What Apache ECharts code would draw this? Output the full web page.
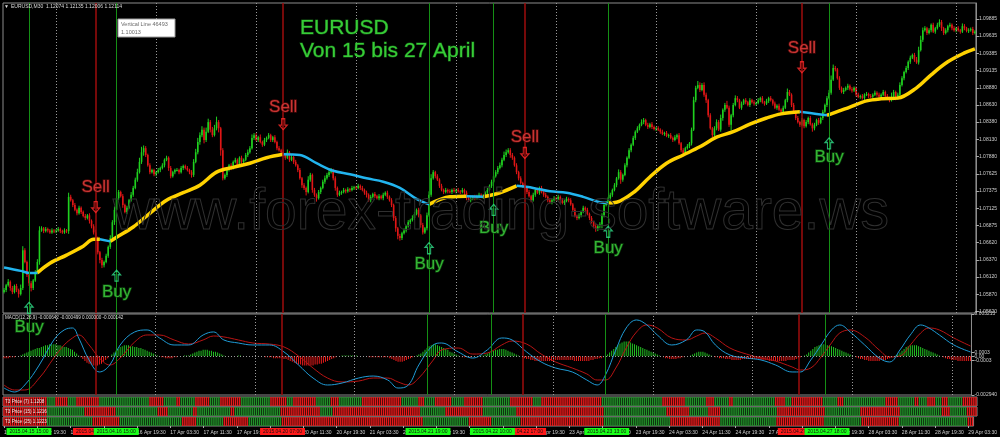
<!DOCTYPE html>
<html><head><meta charset="utf-8">
<script src="https://cdn.jsdelivr.net/npm/echarts@6/dist/echarts.min.js"></script>
<style>html,body{margin:0;padding:0;background:#000;overflow:hidden}#c{width:1000px;height:437px}</style>
</head><body><div id="c"></div>
<script>
// ---------------- DATA ----------------
const sessionDays = [
  ['2015.04.15','11:30',25],['2015.04.16','00:00',48],['2015.04.17','00:00',48],
  ['2015.04.20','00:00',48],['2015.04.21','00:00',48],['2015.04.22','00:00',48],
  ['2015.04.23','00:00',48],['2015.04.24','00:00',48],['2015.04.27','00:00',48],
  ['2015.04.28','00:00',48],['2015.04.29','00:00',10]
];
const firstOpen = 1.0590;
const closes = [
1.0593,1.0600,1.0605,1.0596,1.0590,1.0599,1.0593,1.0587,1.0596,1.0651,1.0634,1.0615,1.0603,1.0596,1.0607,1.0619,1.0634,1.0680,1.0683,1.0679,1.0682,1.0680,1.0677,1.0680,1.0679,
1.0680,1.0682,1.0679,1.0677,1.0680,1.0679,1.0729,1.0724,1.0717,1.0710,1.0705,1.0713,1.0707,1.0701,1.0698,1.0702,1.0694,1.0686,1.0677,1.0669,1.0648,1.0637,1.0629,1.0634,1.0643,1.0656,1.0669,1.0692,1.0710,1.0727,1.0736,1.0730,1.0717,1.0707,1.0713,1.0724,1.0732,1.0742,1.0754,1.0765,1.0780,1.0794,1.0800,1.0790,1.0775,1.0765,1.0768,1.0762,
1.0765,1.0768,1.0771,1.0775,1.0783,1.0786,1.0771,1.0759,1.0765,1.0768,1.0768,1.0765,1.0771,1.0774,1.0771,1.0768,1.0765,1.0761,1.0780,1.0794,1.0809,1.0819,1.0827,1.0812,1.0824,1.0838,1.0827,1.0819,1.0829,1.0838,1.0829,1.0797,1.0756,1.0761,1.0768,1.0775,1.0771,1.0780,1.0783,1.0775,1.0786,1.0780,1.0783,1.0790,1.0794,1.0800,1.0815,1.0819,
1.0812,1.0816,1.0809,1.0805,1.0812,1.0815,1.0819,1.0812,1.0816,1.0809,1.0800,1.0797,1.0794,1.0790,1.0786,1.0794,1.0783,1.0787,1.0780,1.0775,1.0768,1.0756,1.0746,1.0742,1.0736,1.0754,1.0761,1.0739,1.0732,1.0727,1.0736,1.0742,1.0751,1.0756,1.0761,1.0765,1.0768,1.0756,1.0742,1.0732,1.0735,1.0736,1.0739,1.0737,1.0740,1.0739,1.0742,1.0743,
1.0742,1.0745,1.0742,1.0739,1.0735,1.0732,1.0724,1.0729,1.0733,1.0730,1.0727,1.0730,1.0727,1.0732,1.0735,1.0729,1.0724,1.0717,1.0698,1.0683,1.0672,1.0669,1.0676,1.0680,1.0686,1.0692,1.0695,1.0698,1.0704,1.0710,1.0702,1.0688,1.0677,1.0683,1.0702,1.0732,1.0756,1.0765,1.0759,1.0754,1.0745,1.0739,1.0736,1.0739,1.0737,1.0736,1.0739,1.0737,
1.0739,1.0737,1.0736,1.0739,1.0735,1.0727,1.0724,1.0726,1.0729,1.0727,1.0730,1.0732,1.0729,1.0730,1.0735,1.0739,1.0745,1.0751,1.0759,1.0765,1.0771,1.0775,1.0783,1.0790,1.0794,1.0797,1.0790,1.0786,1.0775,1.0765,1.0756,1.0749,1.0745,1.0742,1.0736,1.0730,1.0724,1.0732,1.0739,1.0735,1.0742,1.0736,1.0732,1.0729,1.0724,1.0721,1.0724,1.0727,
1.0726,1.0729,1.0724,1.0720,1.0723,1.0726,1.0724,1.0718,1.0710,1.0701,1.0698,1.0702,1.0707,1.0713,1.0710,1.0704,1.0698,1.0692,1.0686,1.0683,1.0686,1.0689,1.0702,1.0717,1.0720,1.0727,1.0732,1.0739,1.0746,1.0756,1.0765,1.0754,1.0761,1.0775,1.0786,1.0797,1.0805,1.0815,1.0824,1.0829,1.0834,1.0838,1.0841,1.0834,1.0831,1.0835,1.0831,1.0828,
1.0829,1.0827,1.0824,1.0821,1.0822,1.0818,1.0819,1.0815,1.0812,1.0816,1.0819,1.0807,1.0797,1.0793,1.0800,1.0803,1.0807,1.0827,1.0870,1.0888,1.0892,1.0885,1.0892,1.0878,1.0870,1.0848,1.0829,1.0819,1.0829,1.0838,1.0827,1.0844,1.0856,1.0863,1.0859,1.0834,1.0848,1.0863,1.0873,1.0870,1.0859,1.0865,1.0870,1.0867,1.0863,1.0870,1.0867,1.0865,
1.0866,1.0870,1.0873,1.0867,1.0865,1.0869,1.0873,1.0870,1.0865,1.0859,1.0862,1.0856,1.0853,1.0859,1.0870,1.0882,1.0878,1.0863,1.0853,1.0844,1.0838,1.0834,1.0841,1.0832,1.0838,1.0844,1.0835,1.0829,1.0834,1.0841,1.0837,1.0844,1.0853,1.0863,1.0873,1.0881,1.0900,1.0917,1.0915,1.0902,1.0888,1.0882,1.0885,1.0888,1.0891,1.0886,1.0884,1.0888,
1.0878,1.0875,1.0876,1.0873,1.0878,1.0879,1.0876,1.0875,1.0878,1.0881,1.0878,1.0875,1.0878,1.0882,1.0876,1.0873,1.0870,1.0875,1.0882,1.0873,1.0878,1.0892,1.0902,1.0911,1.0917,1.0926,1.0932,1.0936,1.0929,1.0925,1.0943,1.0958,1.0972,1.0975,1.0968,1.0972,1.0980,1.0970,1.0975,1.0980,1.0984,1.0975,1.0968,1.0972,1.0978,1.0980,1.0975,1.0972,
1.0975,1.0972,1.0970,1.0978,1.0975,1.0971,1.0972,1.0974,1.0968,1.0970
];
// wick lengths in pips above/below the candle body
const upperWicks = [
3,2,4,2,3,2,3,2,5,6,3,2,2,3,2,3,4,6,3,2,3,2,2,3,2,
2,3,2,2,3,2,6,3,2,3,2,3,2,2,3,2,3,2,3,4,2,2,3,2,3,2,4,3,5,6,3,2,3,2,3,2,4,3,3,5,6,8,4,3,2,3,2,2,
2,3,2,3,2,3,2,3,2,2,3,2,3,2,2,3,2,3,4,5,6,4,5,3,6,5,3,4,5,8,3,2,3,2,3,2,3,2,3,2,2,3,2,3,4,3,5,3,
3,2,4,2,3,2,3,2,2,3,2,3,2,4,3,4,2,3,2,3,2,3,2,3,2,5,3,2,3,2,3,2,3,4,3,4,3,2,3,2,3,2,3,2,3,2,3,2,
2,3,2,3,2,3,2,3,2,3,2,3,2,3,2,3,2,3,2,3,2,3,2,3,2,3,2,4,3,2,3,2,3,2,4,5,6,3,2,3,2,3,2,3,2,3,2,3,
2,3,2,3,2,3,2,3,2,3,2,3,2,3,2,3,2,3,2,3,3,4,3,5,4,3,3,3,2,3,2,3,2,3,2,3,2,3,2,3,2,3,2,3,2,3,2,3,
2,3,2,3,2,3,2,3,2,3,2,3,2,3,2,3,2,3,2,3,2,3,3,4,3,2,3,2,3,2,4,3,2,3,2,3,2,3,2,3,2,4,3,2,3,2,3,2,
2,3,2,3,2,3,2,3,2,3,2,3,2,3,2,3,2,3,5,3,6,4,3,4,3,2,3,2,3,4,3,5,2,3,6,3,2,3,4,3,2,3,2,3,2,3,2,3,
2,3,2,3,2,3,2,3,2,3,2,3,2,3,2,5,3,2,3,2,3,2,3,2,3,2,3,2,3,2,3,2,3,2,3,4,6,5,3,2,3,2,3,2,3,2,3,2,
2,3,2,3,2,3,2,3,2,3,2,3,2,3,2,3,2,6,3,2,3,4,3,2,3,2,3,2,3,4,5,6,4,3,2,3,2,3,2,3,4,3,2,3,2,3,2,3,
2,3,2,4,3,2,3,2,3,2
];
const lowerWicks = [
2,3,2,4,3,2,3,5,2,3,2,3,4,5,3,2,3,4,2,3,2,3,2,2,3,
3,2,3,2,2,3,4,2,3,2,3,2,3,2,3,2,4,3,3,2,3,5,4,3,2,3,3,2,4,2,3,2,4,2,3,2,2,3,2,3,2,3,5,3,2,3,2,3,
3,2,3,2,3,2,4,3,2,3,2,3,2,3,2,2,3,4,3,2,3,4,3,5,3,2,4,3,2,3,6,8,3,2,3,2,3,2,2,3,2,3,2,2,3,2,2,3,
2,3,2,3,2,3,2,3,3,2,3,2,3,2,3,2,3,2,3,2,3,2,4,3,5,2,3,4,3,5,2,3,2,3,2,3,2,3,4,3,2,3,2,3,2,3,2,3,
3,2,3,2,3,4,2,3,2,3,2,3,2,3,2,3,2,3,4,5,5,4,3,2,3,2,3,2,3,2,3,4,3,2,3,2,3,2,3,2,3,2,3,2,3,2,3,2,
3,2,3,2,4,3,2,3,2,3,2,3,2,3,2,3,2,3,2,2,3,2,3,2,3,2,4,3,2,3,3,2,3,2,3,2,3,2,3,2,3,2,3,2,3,2,3,2,
3,2,3,2,3,2,3,2,3,2,3,2,3,2,3,2,3,2,3,5,4,3,6,3,2,3,2,3,2,3,2,6,3,2,3,2,3,2,3,2,3,2,3,2,3,2,3,2,
3,2,3,2,3,2,3,2,3,2,3,2,3,5,3,2,3,3,2,3,2,3,2,3,4,3,2,3,2,3,2,3,4,3,2,3,8,3,2,3,2,3,2,3,2,3,2,3,
3,2,3,2,3,2,3,2,3,2,3,2,4,3,2,3,2,3,2,3,2,3,2,3,2,3,2,5,3,2,3,2,3,2,3,2,3,2,3,2,3,2,3,2,3,2,3,2,
3,2,3,2,3,2,3,2,3,2,3,2,3,2,3,2,3,2,5,3,2,3,2,3,2,3,3,2,3,2,3,2,3,2,3,2,3,2,3,2,3,4,3,2,3,2,3,2,
3,2,3,2,3,2,3,2,3,2
];
// right price scale tick labels
const priceTicks = [1.05620,1.05870,1.06120,1.06370,1.06620,1.06875,1.07125,1.07375,1.07625,1.07880,1.08130,1.08380,1.08630,1.08880,1.09135,1.09385,1.09635,1.09885];
// moving average read at bar indices [bar, price]
const maPoints = [[0,1.0626],[8,1.0621],[12,1.0618],[16,1.0618],[22,1.0632],[30,1.0644],[38,1.0657],[43,1.0667],[46,1.0667],[51,1.0664],[54,1.0670],[62,1.0685],[70,1.0705],[78,1.0724],[86,1.0735],[94,1.0746],[102,1.0765],[110,1.0772],[118,1.0778],[126,1.0786],[134,1.0791],[142,1.0790],[150,1.0778],[158,1.0767],[166,1.0762],[174,1.0756],[182,1.0751],[190,1.0742],[198,1.0726],[204,1.0718],[214,1.0729],[222,1.0730],[230,1.0729],[238,1.0735],[246,1.0745],[254,1.0742],[262,1.0737],[270,1.0735],[278,1.0729],[286,1.0721],[290,1.0720],[294,1.0721],[302,1.0735],[310,1.0758],[318,1.0778],[326,1.0790],[334,1.0802],[342,1.0816],[350,1.0824],[358,1.0835],[366,1.0844],[373,1.0850],[382,1.0853],[390,1.0850],[395,1.0848],[398,1.0851],[406,1.0860],[414,1.0869],[421,1.0872],[429,1.0873],[438,1.0888],[445,1.0907],[453,1.0926],[461,1.0939],[466,1.0945]];
const maFallingRanges = [[0,16],[46,51],[134,204],[222,230],[246,290],[382,395]];
// MACD(12,26,9) main and signal read at bar indices
const macdMain = [[0,-0.00241],[5,-0.00271],[10,-0.00218],[17,-0.00066],[24,0.00124],[29,0.00200],[33,0.00215],[36,0.00139],[41,-0.00028],[46,-0.00119],[51,-0.00066],[56,0.00086],[63,0.00185],[69,0.00200],[75,0.00139],[82,0.00086],[89,0.00086],[96,0.00162],[101,0.00185],[106,0.00124],[113,0.00101],[120,0.00086],[128,0.00086],[135,0.00033],[142,-0.00066],[149,-0.00165],[156,-0.00218],[163,-0.00203],[171,-0.00165],[178,-0.00150],[185,-0.00180],[190,-0.00241],[195,-0.00218],[200,-0.00066],[207,0.00086],[211,0.00101],[219,0.00033],[226,-0.00013],[233,0.00048],[240,0.00139],[245,0.00124],[252,0.00033],[259,-0.00043],[266,-0.00089],[274,-0.00119],[281,-0.00180],[286,-0.00218],[290,-0.00142],[295,0.00048],[300,0.00215],[305,0.00276],[310,0.00238],[315,0.00162],[322,0.00086],[329,0.00124],[334,0.00200],[338,0.00185],[343,0.00086],[350,0.00010],[358,-0.00013],[365,-0.00028],[372,-0.00066],[380,-0.00119],[384,-0.00119],[389,-0.00028],[394,0.00086],[399,0.00200],[403,0.00238],[408,0.00185],[415,0.00086],[422,-0.00013],[427,-0.00043],[432,0.00048],[437,0.00162],[442,0.00238],[446,0.00215],[451,0.00162],[458,0.00086],[466,0.00033]];
const macdSignal = [[0,-0.00218],[5,-0.00256],[10,-0.00256],[17,-0.00165],[24,-0.00013],[29,0.00086],[33,0.00139],[36,0.00162],[41,0.00086],[46,-0.00013],[51,-0.00066],[56,-0.00013],[63,0.00109],[69,0.00162],[75,0.00162],[82,0.00124],[89,0.00093],[96,0.00124],[101,0.00154],[106,0.00147],[113,0.00124],[120,0.00101],[128,0.00093],[135,0.00071],[142,0.00002],[149,-0.00089],[156,-0.00165],[163,-0.00195],[171,-0.00188],[178,-0.00165],[185,-0.00165],[190,-0.00195],[195,-0.00218],[200,-0.00165],[207,-0.00028],[211,0.00048],[219,0.00063],[226,0.00017],[233,0.00025],[240,0.00086],[245,0.00116],[252,0.00093],[259,0.00017],[266,-0.00043],[274,-0.00089],[281,-0.00134],[286,-0.00180],[290,-0.00180],[295,-0.00089],[300,0.00063],[305,0.00185],[310,0.00238],[315,0.00215],[322,0.00139],[329,0.00124],[334,0.00154],[338,0.00177],[343,0.00139],[350,0.00063],[358,0.00017],[365,-0.00013],[372,-0.00036],[380,-0.00081],[384,-0.00104],[389,-0.00089],[394,-0.00005],[399,0.00101],[403,0.00177],[408,0.00200],[415,0.00147],[422,0.00048],[427,-0.00005],[432,0.00002],[437,0.00086],[442,0.00177],[446,0.00215],[451,0.00200],[458,0.00139],[466,0.00078]];
// MACD histogram, in points (0.00001)
const osmaPts = [
-14,-14,-14,-7,-7,-7,0,0,7,
14,21,28,35,42,49,56,63,63,70,77,84,84,91,91,91,
91,84,84,77,70,70,63,56,49,35,21,
7,-7,-21,-35,-49,-56,-63,-70,-70,-70,
-63,-56,-42,-28,-14,0,14,28,42,56,
70,77,84,84,84,77,77,70,70,63,63,56,49,42,35,
28,21,14,7,0,-7,-7,-14,-14,-14,-14,-7,-7,0,0,0,7,7,7,14,
21,28,35,42,42,49,49,49,42,42,35,35,28,21,
14,7,0,0,0,0,0,0,7,7,0,0,0,0,0,0,
0,0,0,0,0,-7,-7,-7,-7,-14,-14,-14,-14,-14,
-21,-21,-28,-35,-42,-49,-56,-63,-63,-70,-70,-70,-70,-70,-70,-63,-63,-56,-56,-49,-42,-35,-28,-21,-14,-7,
0,0,7,7,7,7,7,7,7,7,0,0,0,0,0,-7,-7,-7,-7,-7,-7,-7,-7,-7,-7,
-14,-21,-28,-35,-42,-42,-42,-35,-28,-21,-14,-7,0,7,14,
21,35,49,63,77,84,91,91,84,77,70,63,56,49,35,28,
21,14,7,0,-7,-7,-7,-7,-7,0,0,0,0,7,7,14,
21,28,35,42,49,49,56,56,56,49,42,35,28,21,14,7,0,-7,
-14,-21,-21,-28,-28,-35,-35,-35,-35,-35,-35,-35,-35,-35,-35,-28,-28,-28,-28,-28,-28,-28,-28,-28,-35,-35,-35,-35,-35,-35,-35,-35,-28,-28,-21,-21,-14,-14,-7,
0,14,28,42,56,70,84,98,105,112,112,112,105,98,91,84,77,70,63,56,49,42,35,
28,21,14,7,0,-7,-14,-14,-21,-21,-21,-21,-14,-14,-7,-7,0,0,
7,14,21,28,35,35,35,28,21,14,7,0,-7,-7,-14,
-14,-14,-21,-21,-21,-28,-28,-28,-28,-28,-21,-21,-21,-21,-21,-21,-21,-21,-21,-28,-28,-28,-28,-35,-35,-35,-35,-35,-35,-35,-35,-35,-28,-28,-28,
-28,-21,-14,-7,0,7,14,28,42,56,70,77,84,91,91,91,84,84,77,70,63,56,49,42,35,28,21,14,
7,0,-7,-14,-21,-21,-28,-28,-35,-35,-35,-35,-35,-35,-28,-28,-28,-21,-14,-7,0,7,
14,28,42,56,70,77,84,84,84,84,77,70,63,56,49,42,35,28,21,14,7,0,
-7,-14,-21,-21,-28,-28,-28,-35,-35,-35,-35,-35,-35,-35
];
const macdTicks = [[0.003213,'0.003213'],[0.0003,'0.0003'],[0,'0.00'],[-0.0003,'-0.0003'],[-0.00294,'-0.002940']];
// trade signals: bar index, arrow price, caption price, time box text
const signals = [
  {side:'buy', i:12, arrow:1.0567, text:1.0538, time:'2015.04.15 15:00'},
  {side:'sell',i:44, arrow:1.0714, text:1.0743, time:'2015.04.16 09:00'},
  {side:'buy', i:54, arrow:1.0614, text:1.0589, time:'2015.04.16 15:00'},
  {side:'sell',i:134,arrow:1.0835, text:1.0860, time:'2015.04.20 07:00'},
  {side:'buy', i:204,arrow:1.0654, text:1.0631, time:'2015.04.21 19:00'},
  {side:'buy', i:235,arrow:1.0710, text:1.0683, time:'2015.04.22 10:00'},
  {side:'sell',i:250,arrow:1.0793, text:1.0816, time:'2015.04.22 17:00'},
  {side:'buy', i:290,arrow:1.0678, text:1.0654, time:'2015.04.23 13:00'},
  {side:'sell',i:383,arrow:1.0918, text:1.0945, time:'2015.04.27 11:00'},
  {side:'buy', i:396,arrow:1.0807, text:1.0787, time:'2015.04.27 18:00'}
];
// T3 colour runs: [first bar, colour]
const t3Runs7 = [[0,'r'],[21,'g'],[25,'r'],[31,'g'],[35,'r'],[46,'g'],[70,'r'],[77,'g'],[83,'r'],[85,'g'],[92,'r'],[99,'g'],[104,'r'],[114,'g'],[128,'r'],[136,'g'],[139,'r'],[150,'g'],[157,'r'],[161,'g'],[172,'r'],[191,'g'],[199,'r'],[202,'g'],[207,'r'],[215,'g'],[221,'r'],[230,'g'],[243,'r'],[254,'g'],[258,'r'],[287,'g'],[316,'r'],[327,'g'],[337,'r'],[341,'g'],[348,'r'],[350,'g'],[370,'r'],[375,'g'],[378,'r'],[393,'g'],[400,'r'],[403,'g'],[423,'r'],[429,'g'],[437,'r'],[439,'g'],[443,'r'],[447,'g'],[450,'r'],[453,'g'],[460,'r']];
const t3Runs15 = [[0,'r'],[21,'g'],[39,'r'],[54,'g'],[74,'r'],[79,'g'],[91,'r'],[93,'g'],[109,'r'],[111,'g'],[133,'r'],[152,'g'],[158,'r'],[200,'g'],[212,'r'],[230,'g'],[246,'r'],[288,'g'],[318,'r'],[329,'g'],[338,'r'],[344,'g'],[371,'r'],[394,'g'],[411,'r'],[430,'g'],[450,'r'],[454,'g'],[462,'r']];
const t3Runs25 = [[0,'r'],[21,'g'],[43,'r'],[56,'g'],[86,'r'],[93,'g'],[106,'r'],[118,'g'],[134,'r'],[202,'g'],[224,'r'],[235,'g'],[249,'r'],[289,'g'],[321,'r'],[345,'g'],[372,'r'],[395,'g'],[413,'r'],[431,'g'],[464,'r']];

// ---------------- BUILD ----------------
const FONT = '"Liberation Sans", Arial, sans-serif';
const categories = [];
for (const [day, start, count] of sessionDays) {
  let [h, m] = start.split(':').map(Number);
  for (let k = 0; k < count; k++) {
    categories.push(day + ' ' + String(h).padStart(2,'0') + ':' + String(m).padStart(2,'0'));
    m += 30; if (m >= 60) { m -= 60; h += 1; }
  }
}
const N = categories.length;
[['closes',closes],['upperWicks',upperWicks],['lowerWicks',lowerWicks],['osmaPts',osmaPts]].forEach(([n,a]) => {
  if (a.length !== N) throw new Error('length mismatch ' + n + ': ' + a.length + ' vs ' + N);
});
const PIP = 0.0001;
const candles = closes.map((c, i) => {
  const o = i === 0 ? firstOpen : closes[i - 1];
  return [i, o, c, Math.min(o, c) - lowerWicks[i] * PIP, Math.max(o, c) + upperWicks[i] * PIP];
});
const dayStarts = [];
for (let i = 1; i < N; i++) if (categories[i].slice(0,10) !== categories[i-1].slice(0,10)) dayStarts.push(i);
const months = ['Jan','Feb','Mar','Apr','May','Jun','Jul','Aug','Sep','Oct','Nov','Dec'];
function fmtCat(v) { const [d, t] = v.split(' '); const p = d.split('.'); return p[2] + ' ' + months[+p[1]-1] + ' ' + t; }
function runsToColors(runs) {
  const out = [];
  runs.forEach(([s, c], r) => { const e = r + 1 < runs.length ? runs[r+1][0] : N; for (let i = s; i < e; i++) out[i] = c; });
  return out;
}
// rising ranges are the complement of the falling ones
const maRisingRanges = [];
let prevEnd = 0;
maFallingRanges.forEach(([a, b]) => { if (a > prevEnd) maRisingRanges.push([prevEnd, a]); prevEnd = b; });
if (prevEnd < N - 1) maRisingRanges.push([prevEnd, N - 1]);

const UP = '#1fd01f', DN = '#e01616';
const T3G = '#23902a', T3R = '#e31b1b';
const BUYLINE = '#158f15', SELLLINE = '#9e0d0d';
const sepLines = dayStarts.map(i => ({xAxis: categories[i], lineStyle:{color:'#9a9a9a', type:[1,2], width:1}}));
const sigLines = signals.map(s => ({xAxis: categories[s.i], lineStyle:{color: s.side === 'buy' ? BUYLINE : SELLLINE, type:'solid', width: s.side === 'buy' ? 1 : 1.5}}));

const grids = [
  {left:3, right:23, top:3, height:310},
  {left:3, right:23, top:314, height:81},
  {left:3, right:23, top:397, height:9},
  {left:3, right:23, top:407, height:9},
  {left:3, right:23, top:417, height:9}
].map(g => Object.assign({show:true, borderColor:'#8c8c8c', borderWidth:1, backgroundColor:'#000'}, g));

const xAxes = grids.map((g, k) => ({
  type:'category', gridIndex:k, data:categories, boundaryGap:true,
  axisLine:{show:false}, axisTick:{show:false}, splitLine:{show:false},
  axisLabel:{show:false}
}));
xAxes[4].axisLabel = {show:true, interval:(idx) => idx % 16 === 0, formatter: fmtCat, color:'#cfcfcf', fontSize:5, fontFamily:FONT, align:'left', margin:4};
xAxes[4].axisTick = {show:true, interval:(idx) => idx % 16 === 0, alignWithLabel:true, length:2, lineStyle:{color:'#aaa'}};

const yAxes = [
  {type:'value', gridIndex:0, position:'right', min:1.05595, max:1.10118, scale:true,
   axisLine:{show:true, lineStyle:{color:'#8c8c8c'}}, splitLine:{show:false},
   axisTick:{show:true, customValues:priceTicks, length:3, lineStyle:{color:'#aaa'}},
   axisLabel:{show:true, customValues:priceTicks, formatter:v => v.toFixed(5), color:'#cfcfcf', fontSize:5, fontFamily:FONT, margin:3}},
  {type:'value', gridIndex:1, position:'right', min:-0.00294, max:0.003213,
   axisLine:{show:true, lineStyle:{color:'#8c8c8c'}}, splitLine:{show:false},
   axisTick:{show:true, customValues:macdTicks.map(t=>t[0]), length:3, lineStyle:{color:'#aaa'}},
   axisLabel:{show:true, customValues:macdTicks.map(t=>t[0]), formatter:v => { const t = macdTicks.find(x => Math.abs(x[0]-v) < 1e-7); return t ? t[1] : ''; }, color:'#cfcfcf', fontSize:5, fontFamily:FONT, margin:3}},
  {type:'value', gridIndex:2, min:0, max:1, show:false},
  {type:'value', gridIndex:3, min:0, max:1, show:false},
  {type:'value', gridIndex:4, min:0, max:1, show:false}
];

const series = [];
// candles drawn through the axis scales (api.coord)
series.push({
  type:'custom', xAxisIndex:0, yAxisIndex:0, clip:true, data:candles,
  encode:{x:0, y:[1,2,3,4]},
  renderItem:(params, api) => {
    const i = api.value(0), o = api.value(1), c = api.value(2), lo = api.value(3), hi = api.value(4);
    const pH = api.coord([i, hi]), pL = api.coord([i, lo]), pO = api.coord([i, o]), pC = api.coord([i, c]);
    const x = pH[0];
    const col = c >= o ? UP : DN;
    const top = Math.min(pO[1], pC[1]);
    const h = Math.max(1, Math.abs(pO[1] - pC[1]));
    return {type:'group', children:[
      {type:'line', shape:{x1:x, y1:pH[1], x2:x, y2:pL[1]}, style:{stroke:col, lineWidth:1}},
      {type:'rect', shape:{x:x - 0.8, y:top, width:1.6, height:h}, style:{fill:col}}
    ]};
  }
});
maRisingRanges.forEach(([a, b], k) => {
  series.push({type:'line', xAxisIndex:0, yAxisIndex:0, data:maPoints.filter(p => p[0] >= a && p[0] <= b),
    smooth:0.35, showSymbol:false, lineStyle:{color:'#ffd200', width:3.5}, z:3,
    markLine: k === 0 ? {silent:true, symbol:'none', label:{show:false}, animation:false, data: sepLines.concat(sigLines)} : undefined});
});
maFallingRanges.forEach(([a, b]) => {
  series.push({type:'line', xAxisIndex:0, yAxisIndex:0, data:maPoints.filter(p => p[0] >= a && p[0] <= b),
    smooth:0.35, showSymbol:false, lineStyle:{color:'#22b4ee', width:2.5}, z:4});
});
const upPath = 'path://M5,0 L10,5 L7,5 L7,12 L3,12 L3,5 L0,5 Z';
const dnPath = 'path://M5,12 L10,7 L7,7 L7,0 L3,0 L3,7 L0,7 Z';
const sells = signals.filter(s => s.side === 'sell'), buys = signals.filter(s => s.side === 'buy');
series.push({type:'scatter', xAxisIndex:0, yAxisIndex:0, clip:false, symbol:dnPath, symbolSize:[8,11], z:6,
  itemStyle:{color:'rgba(0,0,0,0)', borderColor:'#ff2b2b', borderWidth:1.2}, data:sells.map(s => [s.i, s.arrow])});
series.push({type:'scatter', xAxisIndex:0, yAxisIndex:0, clip:false, symbol:upPath, symbolSize:[8,11], z:6,
  itemStyle:{color:'rgba(0,0,0,0)', borderColor:'#2fe08a', borderWidth:1.2}, data:buys.map(s => [s.i, s.arrow])});
series.push({type:'scatter', xAxisIndex:0, yAxisIndex:0, clip:false, symbolSize:1, z:6,
  itemStyle:{color:'rgba(0,0,0,0)'}, data:sells.map(s => [s.i, s.text]),
  label:{show:true, position:'inside', formatter:'Sell', fontSize:17, fontFamily:FONT, color:'#e8413f', textBorderColor:'#5c0b0b', textBorderWidth:1.5}});
series.push({type:'scatter', xAxisIndex:0, yAxisIndex:0, clip:false, symbolSize:1, z:6,
  itemStyle:{color:'rgba(0,0,0,0)'}, data:buys.map(s => [s.i, s.text]),
  label:{show:true, position:'inside', formatter:'Buy', fontSize:17, fontFamily:FONT, color:'#3fd23f', textBorderColor:'#0f4d0f', textBorderWidth:1.5}});

// MACD panel
series.push({type:'bar', xAxisIndex:1, yAxisIndex:1, barWidth:1,
  data: osmaPts.map(p => ({value: p * 0.00001, itemStyle:{color: p >= 0 ? '#22c222' : '#f01c1c'}})),
  markLine:{silent:true, symbol:'none', label:{show:false}, animation:false,
    data: sepLines.concat(sigLines).concat([
      {yAxis:0.0003, lineStyle:{color:'#9a9a9a', type:[1,2], width:1}},
      {yAxis:-0.0003, lineStyle:{color:'#9a9a9a', type:[1,2], width:1}}])}});
series.push({type:'line', xAxisIndex:1, yAxisIndex:1, data:macdSignal, smooth:0.4, showSymbol:false, lineStyle:{color:'#b81414', width:1}, z:3});
series.push({type:'line', xAxisIndex:1, yAxisIndex:1, data:macdMain, smooth:0.4, showSymbol:false, lineStyle:{color:'#1f9bd6', width:1}, z:4});

// T3 strips; the last one also carries the time boxes of the signal lines (sell boxes first, buy boxes on top)
const boxData = sells.concat(buys).map(s => ({xAxis: categories[s.i],
  label:{formatter: s.time, backgroundColor: s.side === 'buy' ? '#19ff19' : '#ff1a1a'}}));
[t3Runs7, t3Runs15, t3Runs25].forEach((runs, k) => {
  const cols = runsToColors(runs);
  const s = {type:'bar', xAxisIndex:2+k, yAxisIndex:2+k, barCategoryGap:'28%',
    data: cols.map(c => ({value:1, itemStyle:{color: c === 'g' ? T3G : T3R}}))};
  if (k === 2) s.markLine = {silent:true, symbol:'none', animation:false, z:10,
    lineStyle:{color:'rgba(0,0,0,0)', width:1, type:'solid'},
    label:{show:true, position:'start', distance:2, fontSize:5, fontFamily:FONT, color:'#111', padding:[1,3,1,3]},
    emphasis:{disabled:true},
    data: boxData};
  series.push(s);
});

const txt = (x, y, text, size, color, extra) => ({type:'text', x, y, silent:true, z:100,
  style:Object.assign({text, fill:color, font: size + 'px ' + FONT, verticalAlign:'middle'}, extra || {})});

const option = {
  backgroundColor:'#000', animation:false,
  grid:grids, xAxis:xAxes, yAxis:yAxes, series,
  graphic:[
    txt(113, 213, 'www.forex-trading-software.ws', 57, 'rgba(0,0,0,0)', {stroke:'#303030', lineWidth:1}),
    txt(4, 7, '\u25BC', 5, '#dcdcdc'),
    txt(11, 7, 'EURUSD,M30  1.12074 1.12135 1.12006 1.12114', 5, '#dcdcdc'),
    {type:'rect', z:100, silent:true, shape:{x:118, y:19, width:57, height:18}, style:{fill:'#fff', stroke:'#9a9a9a', lineWidth:1}},
    txt(121, 24.5, 'Vertical Line 46493', 5.5, '#6a6a6a'),
    txt(121, 32, '1.10013', 5.5, '#6a6a6a'),
    txt(300, 28.5, 'EURUSD', 21, '#37cc37', {stroke:'#145a14', lineWidth:1}),
    txt(300, 51.5, 'Von 15 bis 27 April', 21, '#37cc37', {stroke:'#145a14', lineWidth:1}),
    txt(5, 318, 'MACD(12,26,9) -0.000642 -0.000499 0.000000 -0.000142', 4.6, '#dcdcdc'),
    txt(5, 401.5, 'T3 Price (7) 1.1208', 4.6, '#e8e8e8'),
    txt(5, 411.5, 'T3 Price (15) 1.1216', 4.6, '#e8e8e8'),
    txt(5, 421.5, 'T3 Price (25) 1.1223', 4.6, '#e8e8e8')
  ]
};
const chart = echarts.init(document.getElementById('c'), null, {renderer:'canvas'});
chart.setOption(option);
</script></body></html>
